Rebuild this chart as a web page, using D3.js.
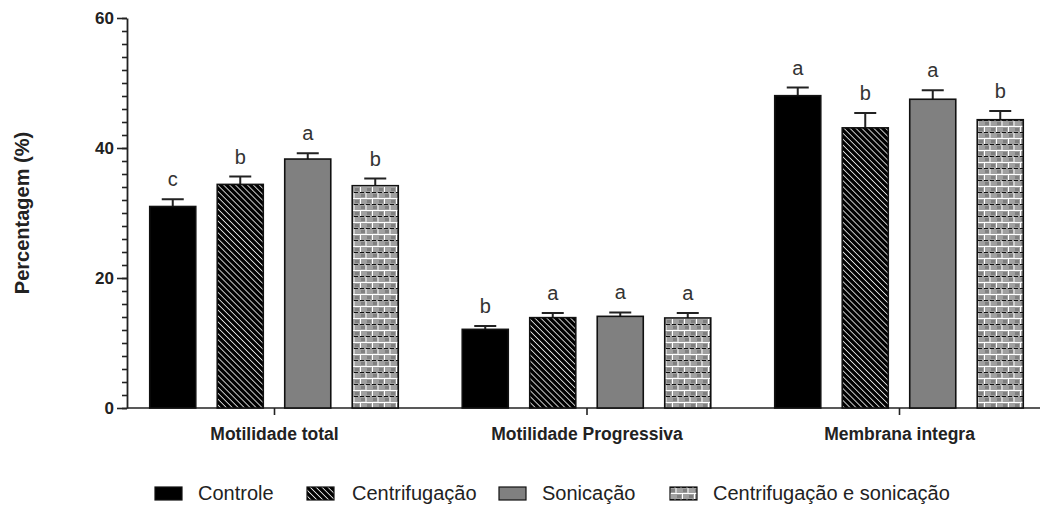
<!DOCTYPE html>
<html>
<head>
<meta charset="utf-8">
<script src="https://cdn.jsdelivr.net/npm/d3@7"></script>
<style>
  body { margin: 0; background: #fff; }
  svg { display: block; font-family: "Liberation Sans", Arial, sans-serif; }
</style>
</head>
<body>
<div id="main"></div>
<script>
// categories and series
const groups = ["Motilidade total", "Motilidade Progressiva", "Membrana integra"];
const series = ["Controle", "Centrifugação", "Sonicação", "Centrifugação e sonicação"];

// means (%)
const controle = [31.0, 12.1, 48.05];
const centrifugacao = [34.4, 13.9, 43.1];
const sonicacao = [38.3, 14.1, 47.5];
const centSonic = [34.2, 13.85, 44.35];

// error (SEM)
const errControle = [1.1, 0.5, 1.25];
const errCentrifugacao = [1.2, 0.7, 2.3];
const errSonicacao = [0.9, 0.6, 1.4];
const errCentSonic = [1.1, 0.75, 1.35];

// significance letters
const letControle = ["c", "b", "a"];
const letCentrifugacao = ["b", "a", "b"];
const letSonicacao = ["a", "a", "a"];
const letCentSonic = ["b", "a", "b"];

const yTicks = [0, 20, 40, 60];

const means = [controle, centrifugacao, sonicacao, centSonic];
const errs = [errControle, errCentrifugacao, errSonicacao, errCentSonic];
const lets = [letControle, letCentrifugacao, letSonicacao, letCentSonic];

const width = 1040;
const height = 508;
const margin = ({top: 18, right: 0, bottom: 100, left: 127});

const svg = d3.select("#main").append("svg")
    .attr("width", width)
    .attr("height", height)
    .attr("viewBox", [0, 0, width, height]);

// patterns
const defs = svg.append("defs");

const stripes = defs.append("pattern")
    .attr("id", "stripes")
    .attr("patternUnits", "userSpaceOnUse")
    .attr("width", 4.2).attr("height", 4.2)
    .attr("patternTransform", "rotate(45)");
stripes.append("rect").attr("width", 4.2).attr("height", 4.2).attr("fill", "#000");
stripes.append("line")
    .attr("x1", 0).attr("x2", 4.2).attr("y1", 2.1).attr("y2", 2.1)
    .attr("stroke", "#e0e0e0").attr("stroke-width", 0.9);

const brick = defs.append("pattern")
    .attr("id", "brick")
    .attr("patternUnits", "userSpaceOnUse")
    .attr("width", 12).attr("height", 12);
brick.append("rect").attr("width", 12).attr("height", 12).attr("fill", "#a0a0a0");
brick.append("rect").attr("x", 1).attr("y", 2).attr("width", 4).attr("height", 3).attr("fill", "#808080");
brick.append("rect").attr("x", 7).attr("y", 8).attr("width", 4).attr("height", 3).attr("fill", "#808080");
brick.append("line").attr("x1", 0).attr("x2", 12).attr("y1", 0.5).attr("y2", 0.5)
    .attr("stroke", "#111").attr("stroke-width", 1.2).attr("stroke-dasharray", "4,2");
brick.append("line").attr("x1", 0).attr("x2", 12).attr("y1", 6.5).attr("y2", 6.5)
    .attr("stroke", "#fff").attr("stroke-width", 1);
brick.append("line").attr("x1", 6).attr("x2", 6).attr("y1", 1).attr("y2", 6)
    .attr("stroke", "#fff").attr("stroke-width", 1);
brick.append("line").attr("x1", 0.5).attr("x2", 0.5).attr("y1", 7).attr("y2", 12)
    .attr("stroke", "#fff").attr("stroke-width", 1);

const fills = ["#000", "url(#stripes)", "#808080", "url(#brick)"];

// scales
const x = d3.scalePoint()
    .domain(groups)
    .range([274, 899]);

const xInner = d3.scaleBand()
    .domain(series)
    .range([-135, 135])
    .paddingInner(0.318)
    .paddingOuter(0.159);

const y = d3.scaleLinear()
    .domain([0, 60])
    .range([height - margin.bottom, margin.top]);

// axes
svg.append("g")
    .attr("transform", `translate(${margin.left},0)`)
    .call(d3.axisLeft(y).tickValues(d3.range(0, 61, 2)).tickSize(5).tickFormat(""))
    .call(g => g.select(".domain").remove())
    .call(g => g.selectAll("line").attr("stroke", "#222").attr("stroke-width", 1.6));

svg.append("g")
    .attr("transform", `translate(${margin.left},0)`)
    .call(d3.axisLeft(y).tickValues(yTicks).tickSize(10).tickPadding(3).tickSizeOuter(0))
    .call(g => g.select(".domain").attr("stroke", "#222").attr("stroke-width", 1.8))
    .call(g => g.selectAll("line").attr("stroke", "#222").attr("stroke-width", 1.6))
    .call(g => g.selectAll("text")
        .attr("font-size", 17)
        .attr("font-weight", "bold")
        .attr("font-family", "Liberation Sans, Arial, sans-serif")
        .attr("fill", "#222"));

svg.append("g")
    .attr("transform", `translate(0,${y(0)})`)
    .call(d3.axisBottom(x).tickSize(7).tickPadding(13).tickSizeOuter(0))
    .call(g => g.select(".domain").attr("d", `M${margin.left},0H${width}`)
        .attr("stroke", "#222").attr("stroke-width", 1.6))
    .call(g => g.selectAll("line").attr("stroke", "#222").attr("stroke-width", 1.6))
    .call(g => g.selectAll("text")
        .attr("font-size", 17.5)
        .attr("font-weight", "bold")
        .attr("font-family", "Liberation Sans, Arial, sans-serif")
        .attr("fill", "#222"));

// y label
svg.append("text")
    .attr("transform", `translate(29,${y(30)}) rotate(-90)`)
    .attr("text-anchor", "middle")
    .attr("font-size", 20)
    .attr("font-weight", "bold")
    .attr("fill", "#222")
    .text("Percentagem (%)");

// bars
const cells = [];
series.forEach((s, i) => {
    groups.forEach((g, j) => {
        cells.push({s, g, i, v: means[i][j], e: errs[i][j], l: lets[i][j]});
    });
});

const cx = d => x(d.g) + xInner(d.s) + xInner.bandwidth() / 2;
const capW = 22;

// error bars behind bars
svg.append("g")
    .selectAll("path")
    .data(cells)
    .join("path")
    .attr("fill", "none")
    .attr("stroke", "#222")
    .attr("stroke-width", 2)
    .attr("d", d => `M${cx(d)},${y(d.v)}V${y(d.v + d.e)}M${cx(d) - capW / 2},${y(d.v + d.e)}h${capW}`);

svg.append("g")
    .selectAll("rect")
    .data(cells)
    .join("rect")
    .attr("x", d => x(d.g) + xInner(d.s))
    .attr("y", d => y(d.v))
    .attr("width", xInner.bandwidth())
    .attr("height", d => y(0) - y(d.v))
    .attr("fill", d => fills[d.i])
    .attr("stroke", "#111")
    .attr("stroke-width", 1.6);

svg.append("g")
    .selectAll("text")
    .data(cells)
    .join("text")
    .attr("x", cx)
    .attr("y", d => y(d.v + d.e) - 13)
    .attr("text-anchor", "middle")
    .attr("font-size", 20)
    .attr("fill", "#333")
    .text(d => d.l);

// legend
const legendX = [155, 307, 499, 670];
const legend = svg.append("g")
    .selectAll("g")
    .data(series)
    .join("g")
    .attr("transform", (d, i) => `translate(${legendX[i]},487)`);

legend.append("rect")
    .attr("width", 27)
    .attr("height", 13)
    .attr("fill", (d, i) => fills[i])
    .attr("stroke", "#111")
    .attr("stroke-width", 1.2);

legend.append("text")
    .attr("x", (d, i) => i === 1 ? 45 : 43)
    .attr("y", 13)
    .attr("font-size", 20)
    .attr("fill", "#222")
    .text(d => d);
</script>
</body>
</html>
